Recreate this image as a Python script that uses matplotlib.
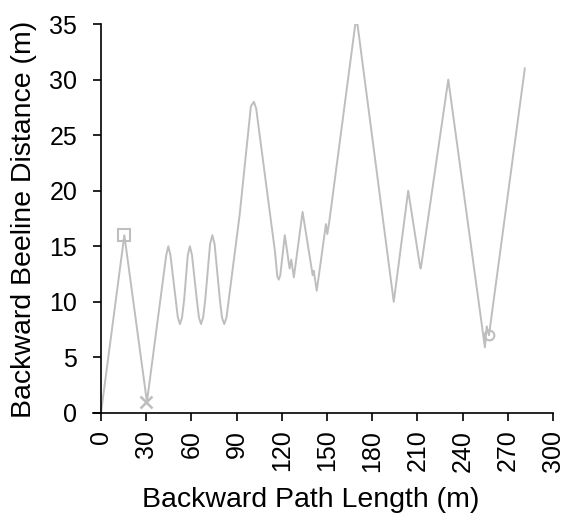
import matplotlib
matplotlib.use("Agg")
import matplotlib.pyplot as plt

# Backward path length (m) and beeline distance (m)
path_length = [0, 15.5, 30.5, 43.3, 44.7, 46.1, 49.6, 51, 52.4, 53.8, 55.2,
               57.6, 59, 60.4, 63.6, 65, 66.4, 67.8, 69.2,
               72.4, 73.9, 75.4, 78.9, 80.3, 81.8, 83.3, 84.8,
               92, 99.5, 101.5, 103, 115.5, 117, 118, 119, 122, 125.2, 126.3, 128, 133.8,
               140.5, 141.2, 143.2, 149.3, 150.2, 151.5, 168.8, 170.2, 194.3,
               203.9, 211.5, 212.1, 212.7, 230.5, 254.8, 256, 257.5, 258.3, 281.3]
beeline = [0, 16, 1, 14.2, 15, 14.2, 10.2, 8.6, 8, 8.6, 10.2,
           14.2, 15, 14.2, 10.2, 8.6, 8, 8.6, 10.2,
           15.2, 16, 15.2, 10.2, 8.6, 8, 8.6, 10.2,
           17.8, 27.6, 28, 27.4, 14.5, 12.3, 12, 12.4, 16, 13, 13.8, 12.2, 18.1,
           12.4, 12.8, 11, 17, 16.1, 17.2, 35, 35, 10,
           20, 13.4, 13, 13.4, 30, 5.9, 7.8, 7, 7.8, 31]

# special markers
start_x, start_y = [15.5], [16]
turn_x, turn_y = [30], [1]
end_x, end_y = [257.5], [7]

xticks = list(range(0, 301, 30))
yticks = list(range(0, 36, 5))

FONT = "Liberation Sans"
plt.rcParams["font.family"] = [FONT, "DejaVu Sans"]

W, H = 572, 522
fig = plt.figure(figsize=(W / 100, H / 100), dpi=100)
ax = fig.add_axes([93 / W, 1 - 413 / H, 460 / W, 389 / H])

gray = "#BEBEBE"
ax.plot(path_length, beeline, color=gray, lw=1.4, solid_joinstyle="round", zorder=2)
ax.plot(start_x, start_y, marker="s", ms=8, mfc="none", mec=gray, mew=1.5, ls="none", zorder=3)
ax.plot(turn_x, turn_y, marker="x", ms=9, mec=gray, mew=1.8, ls="none", zorder=3)
ax.plot(end_x, end_y, marker="o", ms=7, mfc="none", mec=gray, mew=1.5, ls="none", zorder=3)

ax.set_xlim(-5.3, 300)
ax.set_ylim(0, 35)
ax.spines["top"].set_visible(False)
ax.spines["right"].set_visible(False)
ax.spines["left"].set_position(("data", 0))
ax.spines["left"].set_bounds(0, 35)
for s in ("left", "bottom"):
    ax.spines[s].set_linewidth(1.2)
    ax.spines[s].set_color("black")

ax.set_xticks(xticks)
ax.set_yticks(yticks)
ax.set_xticklabels([str(v) for v in xticks], rotation=90, fontsize=18)
ax.set_yticklabels([str(v) for v in yticks], fontsize=18)
ax.tick_params(axis="x", direction="out", length=6, width=1.2, pad=6)
ax.tick_params(axis="y", direction="out", length=6, width=1.2, pad=11)

fig.text(311 / W, 1 - 500 / H, "Backward Path Length (m)", ha="center", va="center", fontsize=20.5)
fig.text(24 / W, 1 - 219 / H, "Backward Beeline Distance (m)", ha="center", va="center",
         rotation=90, fontsize=20.5)

fig.savefig("out.png", dpi=100)
